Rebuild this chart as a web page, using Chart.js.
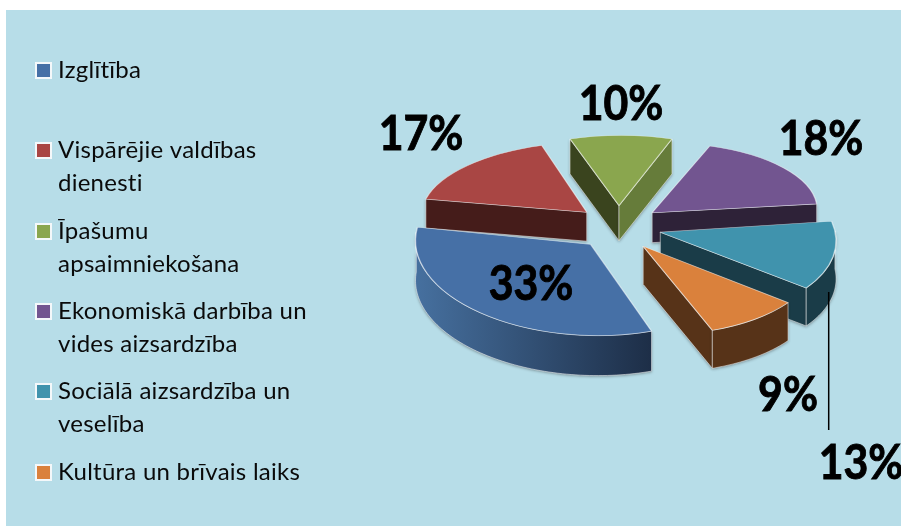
<!DOCTYPE html>
<html>
<head>
<meta charset="utf-8">
<style>
html,body{margin:0;padding:0;background:#fff;overflow:hidden}
canvas{display:block}
</style>
<script src="https://cdn.jsdelivr.net/npm/chart.js@4/dist/chart.umd.min.js"></script>
</head>
<body>
<canvas id="c" width="901" height="526"></canvas>
<script>
const categories = ['Izglītība', 'Vispārējie valdības dienesti', 'Īpašumu apsaimniekošana', 'Ekonomiskā darbība un vides aizsardzība', 'Sociālā aizsardzība un veselība', 'Kultūra un brīvais laiks'];
const shares = [33, 17, 10, 18, 13, 9];
const faceColors = ['#4670a6', '#a94644', '#8aa64e', '#725590', '#4093ad', '#da813c'];
const wallColors = ['#1d2e47', '#451c1a', '#3a441e', '#2e2238', '#1a3c48', '#573318'];
const wallColorsAlt = ['#46709f', '#451c1a', '#667c3a', '#2e2238', '#1a3c48', '#573318'];

const legendLines = [['Izglītība'], ['Vispārējie valdības', 'dienesti'], ['Īpašumu', 'apsaimniekošana'], ['Ekonomiskā darbība un', 'vides aizsardzība'], ['Sociālā aizsardzība un', 'veselība'], ['Kultūra un brīvais laiks']];
const layout = {
  explode: 43,
  radiusScale: [1.06, 1, 1, 1, 1.06, 1.06],
  faceTilt: [0.553, 0.425, 0.425, 0.425, 0.53, 0.535],
  apexTilt: [0.6, 0.45, 0.45, 0.45, 0.6, 0.6],
  skew: [0.08, -0.09, -0.03, -0.1, 0.2, 0.18],
  depth: [40, 29, 35, 30, 38, 38],
  order: [1, 3, 2, 4, 5, 0],
  labelAt: [[531, 285], [421, 135], [621, 105], [821, 140], [861, 464], [788, 396]],
  legendY: [70, 150, 231, 311, 391, 472]
};

const pie3d = {
  id: 'pie3d',
  beforeDraw(chart) {
    const ctx = chart.ctx;
    ctx.save();
    ctx.fillStyle = '#b7dde8';
    ctx.fillRect(6, 10, 895, 516);
    ctx.restore();
  },
  beforeDatasetsDraw(chart) {
    const ctx = chart.ctx;
    const arcs = chart.getDatasetMeta(0).data;
    layout.order.forEach(i => {
      const el = arcs[i];
      const a1 = el.startAngle, a2 = el.endAngle, r = el.outerRadius;
      const mid = (a1 + a2) / 2;
      const ax = el.x + Math.cos(mid) * layout.explode;
      const ay = el.y + Math.sin(mid) * layout.explode * layout.apexTilt[i];
      const kx = layout.radiusScale[i], ky = layout.faceTilt[i], d = layout.depth[i], sk = layout.skew[i];
      const P = a => [ax + kx * r * Math.cos(a) + sk * ky * r * Math.sin(a), ay + ky * r * Math.sin(a)];
      const edge = 'rgba(255,255,255,0.5)';

      const quad = (pts, fill) => {
        ctx.beginPath();
        pts.forEach((p, n) => n ? ctx.lineTo(p[0], p[1]) : ctx.moveTo(p[0], p[1]));
        ctx.closePath();
        ctx.fillStyle = fill;
        ctx.shadowColor = 'rgba(40,40,40,0.45)';
        ctx.shadowBlur = 3;
        ctx.shadowOffsetY = 1;
        ctx.fill();
        ctx.shadowColor = 'transparent';
        ctx.strokeStyle = edge;
        ctx.lineWidth = 1;
        ctx.stroke();
      };

      ctx.save();
      // cut faces that look towards the viewer
      if (Math.sin(a1 - Math.PI / 2) > 0) {
        const e = P(a1);
        quad([[ax, ay], e, [e[0], e[1] + d], [ax, ay + d]], wallColors[i]);
      }
      if (Math.sin(a2 + Math.PI / 2) > 0) {
        const e = P(a2);
        quad([[ax, ay], e, [e[0], e[1] + d], [ax, ay + d]], wallColorsAlt[i]);
      }
      // rim: only the part of the arc on the lower half
      const pts = [], low = [];
      for (let n = 0; n <= 80; n++) {
        const a = a1 + (a2 - a1) * n / 80;
        if (Math.sin(a) > -0.02 || (Math.sin(a) < 0 && Math.cos(a) < 0 && i === 0 && a < Math.PI * 1.05)) {
          const p = P(a);
          pts.push(p);
          low.unshift([p[0], p[1] + d]);
        }
      }
      if (pts.length > 1) {
        let fill = wallColors[i];
        if (i === 0) {
          fill = ctx.createLinearGradient(pts[pts.length - 1][0], 0, pts[0][0], 0);
          fill.addColorStop(0, wallColorsAlt[i]);
          fill.addColorStop(1, wallColors[i]);
        }
        quad(pts.concat(low), fill);
      }
      // top face, drawn by the library's own arc element
      ctx.translate(ax, ay);
      ctx.transform(kx, 0, sk * ky, ky, 0, 0);
      ctx.translate(-el.x, -el.y);
      el.draw(ctx);
      ctx.restore();
    });
    return false;
  },
  afterDraw(chart) {
    const ctx = chart.ctx;
    ctx.save();
    // leader line of the 13% label
    ctx.strokeStyle = '#000';
    ctx.lineWidth = 1.5;
    ctx.beginPath();
    ctx.moveTo(828.7, 292);
    ctx.lineTo(828.7, 430);
    ctx.stroke();
    // value labels
    ctx.fillStyle = '#000';
    ctx.strokeStyle = '#000';
    ctx.lineWidth = 0.9;
    ctx.font = 'bold 47px Lato';
    ctx.textAlign = 'center';
    ctx.textBaseline = 'middle';
    shares.forEach((v, i) => {
      ctx.save();
      ctx.translate(layout.labelAt[i][0], layout.labelAt[i][1]);
      ctx.scale(0.91, 1);
      ctx.fillText(v + '%', 0, 0);
      ctx.strokeText(v + '%', 0, 0);
      ctx.restore();
    });
    // legend
    ctx.textAlign = 'left';
    ctx.textBaseline = 'alphabetic';
    ctx.font = '24px Lato';
    ctx.letterSpacing = '0.25px';
    categories.forEach((name, i) => {
      const y = layout.legendY[i];
      ctx.fillStyle = '#f4f8fa';
      ctx.fillRect(35, y - 8, 17, 17);
      ctx.fillStyle = faceColors[i];
      ctx.fillRect(37, y - 6, 13, 13);
      ctx.fillStyle = '#0a0a0a';
      legendLines[i].forEach((line, n) => ctx.fillText(line, 58, y + 8 + n * 32.5));
    });
    ctx.restore();
  }
};

new Chart(document.getElementById('c'), {
  type: 'pie',
  data: {
    labels: categories,
    datasets: [{
      data: shares,
      backgroundColor: faceColors,
      borderColor: 'rgba(255,255,255,0.55)',
      borderWidth: 1.3,
      borderJoinStyle: 'round'
    }]
  },
  options: {
    responsive: false,
    animation: false,
    rotation: 162,
    radius: 165,
    layout: { padding: { left: 337, right: 0, top: 0, bottom: 76 } },
    plugins: { legend: { display: false }, tooltip: { enabled: false } }
  },
  plugins: [pie3d]
});
</script>
</body>
</html>
